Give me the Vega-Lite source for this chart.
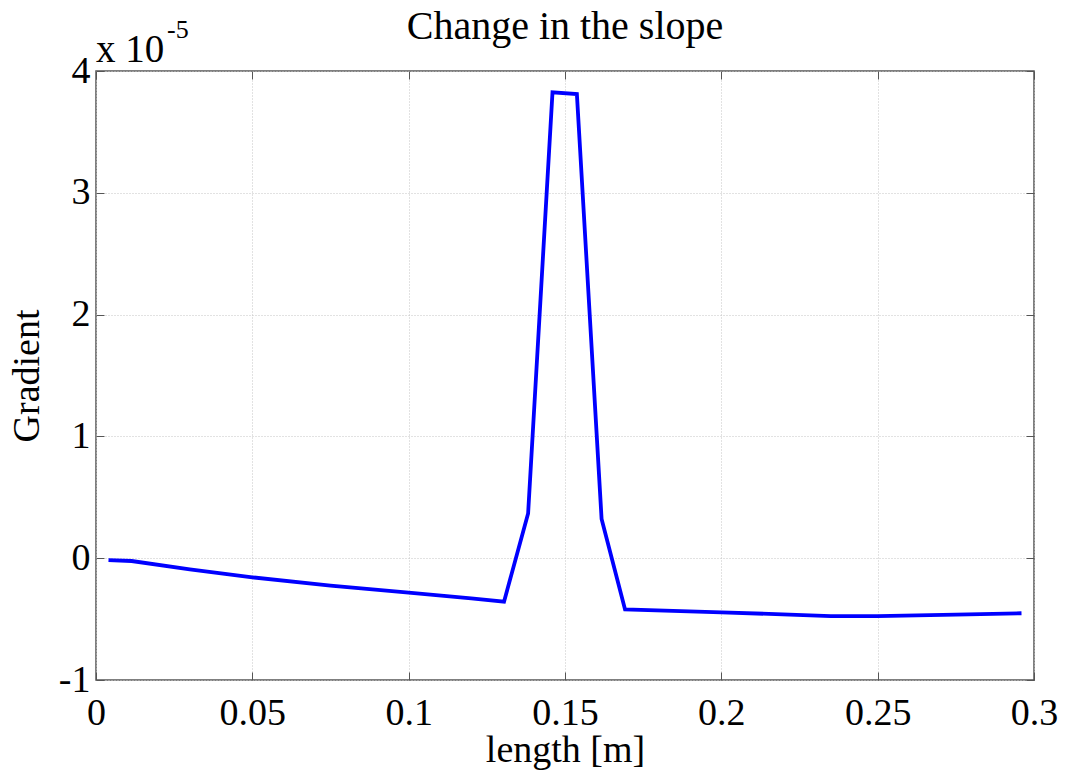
{
  "$schema": "https://vega.github.io/schema/vega-lite/v6.json",
  "autosize": "none",
  "width": 938,
  "height": 609,
  "padding": {"left": 96, "top": 71, "right": 31, "bottom": 93},
  "background": "white",
  "title": {"text": "Change in the slope", "font": "Liberation Serif", "fontSize": 40, "fontWeight": "normal", "color": "black", "offset": -30},
  "config": {
    "view": {"stroke": "#555555", "strokeWidth": 1.5},
    "axis": {"labelFont": "Liberation Serif", "titleFont": "Liberation Serif", "labelFontSize": 38, "titleFontSize": 38, "titleFontWeight": "normal", "labelColor": "black", "titleColor": "black", "domain": false, "tickColor": "#555555", "gridColor": "#c4c4c4", "gridDash": [1, 2], "gridWidth": 1}
  },
  "datasets": {
    "curve": [
      {"length": 0.004, "gradient": -0.015},
      {"length": 0.0114, "gradient": -0.023},
      {"length": 0.03, "gradient": -0.092},
      {"length": 0.05, "gradient": -0.157},
      {"length": 0.075, "gradient": -0.226},
      {"length": 0.1, "gradient": -0.283},
      {"length": 0.12, "gradient": -0.33},
      {"length": 0.1305, "gradient": -0.357},
      {"length": 0.1382, "gradient": 0.367},
      {"length": 0.146, "gradient": 3.825},
      {"length": 0.1538, "gradient": 3.81},
      {"length": 0.1617, "gradient": 0.323},
      {"length": 0.1692, "gradient": -0.42},
      {"length": 0.2, "gradient": -0.444},
      {"length": 0.235, "gradient": -0.475},
      {"length": 0.25, "gradient": -0.475},
      {"length": 0.275, "gradient": -0.464},
      {"length": 0.296, "gradient": -0.452}
    ],
    "exponent": [
      {"length": 0, "gradient": 4, "base": "x 10", "power": "-5"}
    ]
  },
  "resolve": {"axis": {"x": "independent", "y": "independent"}},
  "layer": [
    {
      "data": {"name": "curve"},
      "mark": {"type": "line", "color": "#0000ff", "strokeWidth": 3.8, "clip": true},
      "encoding": {
        "x": {"field": "length", "type": "quantitative", "scale": {"domain": [0, 0.3], "nice": false, "zero": false},
          "axis": {"orient": "bottom", "title": "length [m]", "values": [0, 0.05, 0.1, 0.15, 0.2, 0.25, 0.3], "format": "~g", "tickSize": -8, "labelPadding": 22, "titlePadding": -1, "labelFlush": false, "grid": true}},
        "y": {"field": "gradient", "type": "quantitative", "scale": {"domain": [-1, 4], "nice": false, "zero": false},
          "axis": {"orient": "left", "title": "Gradient", "values": [-1, 0, 1, 2, 3, 4], "labelExpr": "datum.value < 0 ? '-' + format(-datum.value, '~g') : datum.label", "tickSize": -8, "labelPadding": 14, "titlePadding": 12, "labelFlush": false, "grid": true}}
      }
    },
    {
      "data": {"name": "curve"},
      "mark": {"type": "line", "opacity": 0},
      "encoding": {
        "x": {"field": "length", "type": "quantitative", "scale": {"domain": [0, 0.3], "nice": false, "zero": false},
          "axis": {"orient": "top", "title": null, "values": [0, 0.05, 0.1, 0.15, 0.2, 0.25, 0.3], "labels": false, "tickSize": -8, "grid": false}},
        "y": {"field": "gradient", "type": "quantitative", "scale": {"domain": [-1, 4], "nice": false, "zero": false},
          "axis": {"orient": "right", "title": null, "values": [-1, 0, 1, 2, 3, 4], "labels": false, "tickSize": -8, "grid": false}}
      }
    },
    {
      "data": {"name": "exponent"},
      "mark": {"type": "text", "font": "Liberation Serif", "fontSize": 39, "align": "left", "baseline": "alphabetic", "dx": 0, "dy": -9, "color": "black"},
      "encoding": {
        "x": {"field": "length", "type": "quantitative", "axis": null},
        "y": {"field": "gradient", "type": "quantitative", "axis": null},
        "text": {"field": "base"}
      }
    },
    {
      "data": {"name": "exponent"},
      "mark": {"type": "text", "font": "Liberation Serif", "fontSize": 26, "align": "left", "baseline": "alphabetic", "dx": 71, "dy": -33, "color": "black"},
      "encoding": {
        "x": {"field": "length", "type": "quantitative", "axis": null},
        "y": {"field": "gradient", "type": "quantitative", "axis": null},
        "text": {"field": "power"}
      }
    }
  ]
}
